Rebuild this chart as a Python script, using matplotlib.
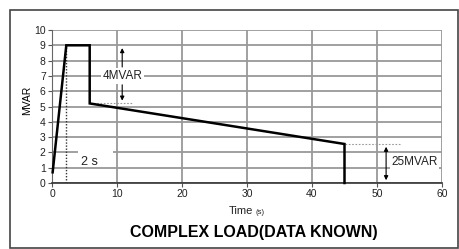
import matplotlib
matplotlib.use("Agg")
import matplotlib.pyplot as plt
from matplotlib.patches import Rectangle

# Data
time_s = [0.1, 2.2, 5.8, 5.8, 45.0, 45.0]
mvar = [0.7, 9.0, 9.0, 5.2, 2.55, 0.0]
x_ticks = [0, 10, 20, 30, 40, 50, 60]
y_ticks = [0, 1, 2, 3, 4, 5, 6, 7, 8, 9, 10]
ramp_time = 2.2
peak_level = 9.0
step_level = 5.2
end_level = 2.55
end_time = 45.0

plt.rcParams['font.family'] = ['Liberation Sans', 'DejaVu Sans']

fig = plt.figure(figsize=(4.59, 2.49), dpi=100)
fig.patch.set_facecolor('white')
fig.add_artist(Rectangle((10/459, 1-248/249), 448/459, 238/249, transform=fig.transFigure,
                         fill=False, edgecolor='#444444', linewidth=1.2))

ax = fig.add_axes([52/459, 1-183/249, 390/459, 153/249])
ax.set_xlim(0, 60)
ax.set_ylim(0, 10)
ax.set_xticks(x_ticks)
ax.set_yticks(y_ticks)
ax.tick_params(labelsize=7.5, length=3, width=0.8, color='#555555', pad=1.5, labelcolor='#222222')
ax.grid(True, color='#999999', linewidth=1.3)
ax.set_axisbelow(True)
for s in ['top', 'right']:
    ax.spines[s].set_visible(False)
ax.spines['left'].set_color('#666666')
ax.spines['bottom'].set_color('#333333')
ax.spines['bottom'].set_linewidth(1.2)

# main curve
ax.plot(time_s, mvar, color='black', linewidth=1.8, solid_joinstyle='miter', zorder=5, clip_on=False)

# dotted ramp marker
ax.plot([ramp_time, ramp_time], [0, peak_level], color='#333333', linestyle=(0, (1, 1.2)), linewidth=1, zorder=4)
ax.add_patch(Rectangle((4.0, 1.85), 5.4, 0.3, facecolor='white', edgecolor='none', zorder=3))
ax.text(5.8, 1.4, '2 s', fontsize=9, ha='center', va='center', zorder=6, color='#222222')

# 4MVAR annotation
ax.plot([5.8, 12.3], [step_level, step_level], color='#999999', linestyle=(0, (1.5, 1.5)), linewidth=0.8, zorder=4)
ax.annotate('', xy=(10.8, peak_level), xytext=(10.8, 7.4),
            arrowprops=dict(arrowstyle='-|>', color='black', lw=0.8, mutation_scale=6), zorder=6)
ax.annotate('', xy=(10.8, step_level), xytext=(10.8, 6.6),
            arrowprops=dict(arrowstyle='-|>', color='black', lw=0.8, mutation_scale=6), zorder=6)
ax.text(10.8, 7.0, '4MVAR', fontsize=8.5, ha='center', va='center', color='#222222', zorder=6,
        bbox=dict(facecolor='white', edgecolor='none', pad=1.2))

# 25MVAR annotation
ax.plot([end_time, 53.5], [end_level, end_level], color='#999999', linestyle=(0, (1.5, 1.5)), linewidth=0.8, zorder=4)
ax.annotate('', xy=(51.4, end_level), xytext=(51.4, 0.0),
            arrowprops=dict(arrowstyle='<|-|>', color='black', lw=0.8, mutation_scale=6), zorder=6)
ax.text(52.2, 1.4, '25MVAR', fontsize=8.5, ha='left', va='center', color='#222222', zorder=6,
        bbox=dict(facecolor='white', edgecolor='none', pad=1.0))

# labels
fig.text(27/459, 1-100/249, 'MVAR', rotation=90, fontsize=7.5, ha='center', va='center')
fig.text(253/459, 1-211/249, 'Time', fontsize=8, ha='right', va='center', color='#222222')
fig.text(256/459, 1-212/249, '(s)', fontsize=5.5, ha='left', va='center', color='#222222')
fig.text(254/459, 1-232/249, 'COMPLEX LOAD(DATA KNOWN)', fontsize=11.5, fontweight='bold', ha='center', va='center')

fig.savefig('out.png', dpi=100, facecolor='white')
